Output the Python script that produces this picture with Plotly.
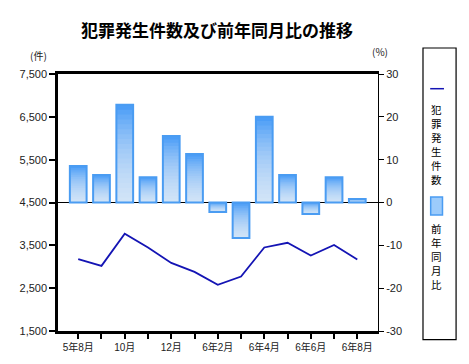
import plotly.graph_objects as go

# ---- data ----
months = ["5年8月", "9月", "10月", "11月", "12月", "6年1月", "6年2月", "6年3月",
          "6年4月", "6年5月", "6年6月", "6年7月", "6年8月"]
tick_labels = ["5年8月", "", "10月", "", "12月", "", "6年2月", "", "6年4月", "",
               "6年6月", "", "6年8月"]
crimes = [3180, 3020, 3770, 3450, 3090, 2880, 2580, 2770, 3450, 3560, 3260, 3510, 3170]
yoy_pct = [8.5, 6.4, 22.8, 5.9, 15.5, 11.3, -2.2, -8.3, 20.0, 6.4, -2.7, 5.9, 0.8]
left_ticks = [1500, 2500, 3500, 4500, 5500, 6500, 7500]
right_ticks = [-30, -20, -10, 0, 10, 20, 30]
legend_line_name = "犯罪発生件数"
legend_bar_name = "前年同月比"

W, H = 469, 364
L, R, T, B = 45, 370, 66, 323  # plot area in pixels


def px(x):
    return (x - L) / (R - L)


def py(y):
    return 1 - (y - T) / (B - T)


xs = list(range(len(months)))
BAR_W = 0.72
BLUE = "#3d96f7"
BORDER = "#4a9cf2"
NAVY = "#1414b4"

fig = go.Figure()

# base bars (solid blue)
fig.add_trace(go.Bar(x=xs, y=yoy_pct, width=BAR_W, yaxis="y2",
                     marker=dict(color=BLUE, line=dict(width=0)),
                     showlegend=False, hoverinfo="skip"))
# white overlays to simulate a top-dark / bottom-light gradient
N = 20
for k in range(1, N + 1):
    frac = k / N
    bases, heights = [], []
    for v in yoy_pct:
        if v >= 0:
            bases.append(0)
            heights.append(v * frac)
        else:
            bases.append(v)
            heights.append(-v * frac)
    fig.add_trace(go.Bar(x=xs, y=heights, base=bases, width=BAR_W, yaxis="y2",
                         marker=dict(color="rgba(255,255,255,0.075)", line=dict(width=0)),
                         showlegend=False, hoverinfo="skip"))
# border
fig.add_trace(go.Bar(x=xs, y=yoy_pct, width=BAR_W, yaxis="y2", name=legend_bar_name,
                     marker=dict(color="rgba(0,0,0,0)", line=dict(color=BORDER, width=2)),
                     showlegend=False))

# line
fig.add_trace(go.Scatter(x=xs, y=crimes, mode="lines", name=legend_line_name,
                         line=dict(color=NAVY, width=1.8), showlegend=False))

fig.update_layout(
    width=W, height=H,
    margin=dict(l=L, r=W - R, t=T, b=H - B),
    paper_bgcolor="white", plot_bgcolor="white",
    barmode="overlay",
    font=dict(family="Liberation Sans, Noto Sans CJK JP", size=11, color="#222"),
    xaxis=dict(range=[-0.87, 12.89], tickmode="array", tickvals=xs, ticktext=tick_labels,
               ticks="outside", ticklen=5, tickwidth=2, tickcolor="black",
               showline=True, linecolor="black", linewidth=2.5, mirror=True,
               showgrid=False, zeroline=False,
               tickfont=dict(size=10, family="Liberation Sans, Noto Sans CJK JP")),
    yaxis=dict(range=[1500, 7500], tickmode="array", tickvals=left_ticks,
               ticktext=[f"{v:,}" for v in left_ticks],
               ticks="outside", ticklen=6, tickwidth=1.5, tickcolor="black",
               showline=True, linecolor="black", linewidth=2.5,
               showgrid=False, zeroline=False, tickfont=dict(size=11)),
    yaxis2=dict(range=[-30, 30], overlaying="y", side="right", tickmode="array",
                tickvals=right_ticks, ticktext=[str(v) for v in right_ticks],
                ticks="outside", ticklen=5, tickwidth=1, tickcolor="black",
                showline=True, linecolor="black", linewidth=1,
                showgrid=False, zeroline=True, zerolinecolor="black", zerolinewidth=1,
                tickfont=dict(size=11, family="Liberation Sans Narrow, Liberation Sans")),
)

annots = [
    dict(text="<b>犯罪発生件数及び前年同月比の推移</b>", x=px(206), y=py(22),
         font=dict(size=17, family="Noto Sans CJK JP", color="black")),
    dict(text="(件)", x=px(25), y=py(47), font=dict(size=10, family="Noto Sans CJK JP")),
    dict(text="(%)", x=px(372), y=py(43), font=dict(size=10, family="Noto Sans CJK JP")),
]
# vertical legend texts, one character per annotation
for i, ch in enumerate(legend_line_name):
    annots.append(dict(text=ch, x=px(429.5), y=py(101.7 + 14 * i),
                       font=dict(size=10.5, family="Noto Sans CJK JP", color="black")))
for i, ch in enumerate(legend_bar_name):
    annots.append(dict(text=ch, x=px(429.5), y=py(220.7 + 13.9 * i),
                       font=dict(size=10.5, family="Noto Sans CJK JP", color="black")))
for a in annots:
    a.update(xref="paper", yref="paper", showarrow=False, xanchor="center",
             yanchor="middle", borderpad=0)
    fig.add_annotation(**a)

# legend box & symbols
fig.add_shape(type="rect", xref="paper", yref="paper", x0=px(415.7), x1=px(449.3),
              y0=py(331.7), y1=py(40), line=dict(color="black", width=1.2),
              fillcolor="rgba(0,0,0,0)")
fig.add_shape(type="line", xref="paper", yref="paper", x0=px(423), x1=px(437),
              y0=py(80.7), y1=py(80.7), line=dict(color=NAVY, width=1.5))
fig.add_shape(type="rect", xref="paper", yref="paper", x0=px(423.5), x1=px(435.5),
              y0=py(207), y1=py(189), line=dict(color=BORDER, width=1.5),
              fillcolor="#9ccbfb")

fig.write_html("out.html")
